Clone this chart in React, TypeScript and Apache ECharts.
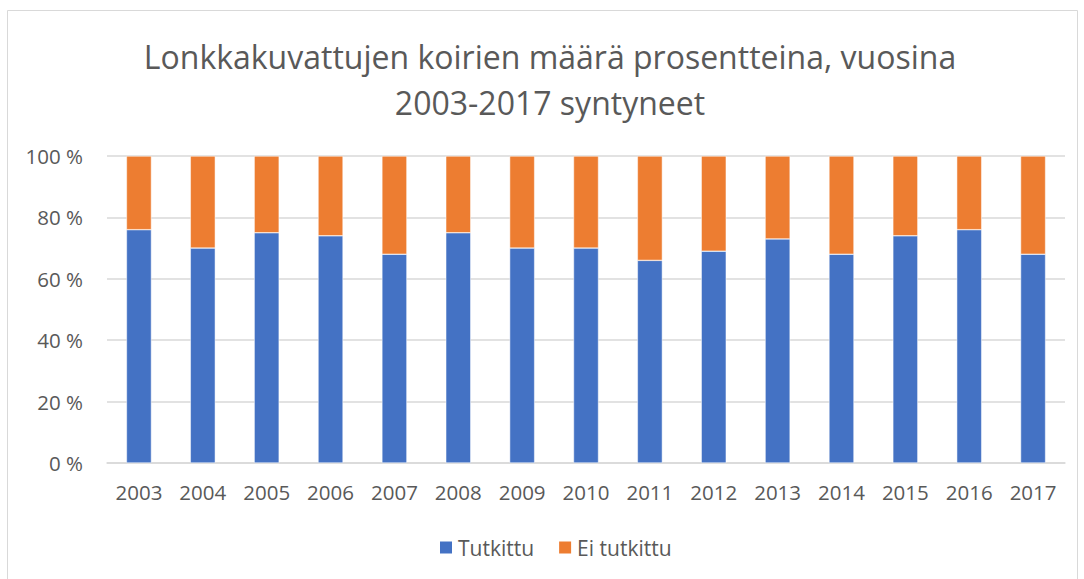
import React, { useEffect, useRef } from "react";
import * as echarts from "echarts";

const years = ["2003","2004","2005","2006","2007","2008","2009","2010","2011","2012","2013","2014","2015","2016","2017"];
const tutkittu = [76, 70, 75, 74, 68, 75, 70, 70, 66, 69, 73, 68, 74, 76, 68];
const eiTutkittu = [24, 30, 25, 26, 32, 25, 30, 30, 34, 31, 27, 32, 26, 24, 32];
const titleText = "Lonkkakuvattujen koirien määrä prosentteina, vuosina\n2003-2017 syntyneet";

export default function App() {
  const ref = useRef<HTMLDivElement>(null);
  useEffect(() => {
    const chart = echarts.init(ref.current!, null, { renderer: "svg" });
    const font = "Open Sans";
    chart.setOption({
      animation: false,
      backgroundColor: "#ffffff",
      textStyle: { fontFamily: font },
      graphic: [
        {
          type: "rect",
          shape: { x: 7.5, y: 10.5, width: 1070, height: 580 },
          style: { fill: "none", stroke: "#d9d9d9", lineWidth: 1 },
          silent: true,
        },
        {
          type: "text",
          x: 550,
          y: 33,
          silent: true,
          style: {
            text: titleText,
            align: "center",
            verticalAlign: "top",
            fontFamily: font,
            fontSize: 32,
            lineHeight: 46,
            fill: "#595959",
          },
        },
      ],
      legend: {
        top: 532,
        left: 433,
        itemWidth: 14,
        itemHeight: 14,
        itemGap: 23,
        icon: "rect",
        textStyle: { fontFamily: font, fontSize: 21, color: "#595959" },
        data: ["Tutkittu", "Ei tutkittu"],
      },
      grid: { left: 107, right: 19, top: 156, bottom: 116 },
      xAxis: {
        type: "category",
        data: years,
        axisLine: { lineStyle: { color: "#d9d9d9", width: 1.5 } },
        axisTick: { show: false },
        axisLabel: { fontFamily: font, fontSize: 20.5, color: "#595959", margin: 18 },
      },
      yAxis: {
        type: "value",
        min: 0,
        max: 100,
        interval: 20,
        axisLine: { show: false },
        axisTick: { show: false },
        splitLine: { lineStyle: { color: "#d9d9d9", width: 1.5 } },
        axisLabel: {
          fontFamily: font,
          fontSize: 20.5,
          color: "#595959",
          margin: 24,
          formatter: (v: number) => v + " %",
        },
      },
      series: [
        {
          name: "Tutkittu",
          type: "bar",
          stack: "a",
          data: tutkittu,
          barWidth: 25,
          itemStyle: { color: "#4472c4", borderColor: "#ffffff", borderWidth: 0.5 },
        },
        {
          name: "Ei tutkittu",
          type: "bar",
          stack: "a",
          data: eiTutkittu,
          barWidth: 25,
          itemStyle: { color: "#ed7d31", borderColor: "#ffffff", borderWidth: 0.5 },
        },
      ],
    });
    return () => chart.dispose();
  }, []);
  return (
    <div
      ref={ref}
      style={{ position: "fixed", left: 0, top: 0, width: 1084, height: 579 }}
    />
  );
}
